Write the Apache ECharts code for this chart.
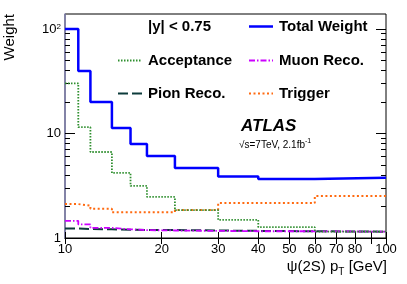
<!DOCTYPE html>
<html><head><meta charset="utf-8">
<script src="https://cdn.jsdelivr.net/npm/echarts@6/dist/echarts.min.js"></script>
<style>html,body{margin:0;padding:0;background:#fff}#c{width:407px;height:284px}</style>
</head><body><div id="c"></div>
<script>
// ---- data ----
const binEdges     = [10, 11, 12, 14, 16, 18, 22, 30, 40, 60, 100];
const totalWeight  = [100, 39.6, 20.0, 11.3, 7.94, 6.09, 4.67, 3.88, 3.67, 3.78];
const acceptance   = [30.2, 11.5, 6.65, 4.19, 3.15, 2.47, 1.85, 1.49, 1.27, 1.15];
const muonReco     = [1.46, 1.35, 1.25, 1.21, 1.19, 1.18, 1.17, 1.16, 1.16, 1.15];
const pionReco     = [1.23, 1.22, 1.21, 1.20, 1.19, 1.19, 1.18, 1.17, 1.16, 1.15];
const trigger      = [2.11, 2.04, 1.90, 1.76, 1.76, 1.76, 1.85, 2.16, 2.16, 2.52];
const seriesNames  = ['Total Weight', 'Acceptance', 'Muon Reco.', 'Pion Reco.', 'Trigger'];
const xTickLabels  = [10, 20, 30, 40, 50, 60, 70, 80, 100];
const xTicks       = [10, 20, 30, 40, 50, 60, 70, 80, 90, 100];
const yMajorTicks  = [1, 10, 100];
const yMinorTicks  = [2, 3, 4, 5, 6, 7, 8, 9, 20, 30, 40, 50, 60, 70, 80, 90];
const xRange = [10, 100];
const yRange = [1, 139];

const FONT = "'Liberation Sans', Arial, Helvetica, sans-serif";
const lg = Math.log10;

function stepData(vals) {
  const d = vals.map((v, i) => [binEdges[i], v]);
  d.push([binEdges[binEdges.length - 1], vals[vals.length - 1]]);
  return d;
}

const styles = {
  'Total Weight': { color: '#0000ff', width: 2.5, type: 'solid' },
  'Acceptance':   { color: '#2f8f2f', width: 1.8, type: [1.5, 1.5] },
  'Muon Reco.':   { color: '#cc00ff', width: 1.8, type: [6, 2, 1.5, 2] },
  'Pion Reco.':   { color: '#0d3b3b', width: 2, type: [10, 4] },
  'Trigger':      { color: '#ff6a10', width: 2, type: [2, 2.5] }
};
const values = {
  'Total Weight': totalWeight, 'Acceptance': acceptance, 'Muon Reco.': muonReco,
  'Pion Reco.': pionReco, 'Trigger': trigger
};

const drawOrder = ['Pion Reco.', 'Muon Reco.', 'Trigger', 'Acceptance', 'Total Weight'];
const series = drawOrder.map(n => ({
  name: n, type: 'line', step: 'end', symbol: 'none', xAxisIndex: 0, yAxisIndex: 0,
  data: stepData(values[n]), lineStyle: styles[n], silent: true, animation: false
}));

function tickAxisX(pos, withLabels) {
  return {
    type: 'value', position: pos, min: lg(xRange[0]), max: lg(xRange[1]),
    axisLine: { show: false }, splitLine: { show: false },
    axisTick: { show: true, inside: true, length: 6, customValues: xTicks.map(lg), lineStyle: { color: '#000', width: 1 } },
    axisLabel: withLabels ? {
      show: true, customValues: xTickLabels.map(lg), margin: 5,
      formatter: v => String(Math.round(Math.pow(10, v))),
      fontFamily: FONT, fontSize: 13, color: '#000'
    } : { show: false }
  };
}
function tickAxisY(pos, ticks, len, withLabels) {
  return {
    type: 'value', position: pos, min: lg(yRange[0]), max: lg(yRange[1]),
    axisLine: { show: false }, splitLine: { show: false },
    axisTick: { show: true, inside: true, length: len, customValues: ticks.map(lg), lineStyle: { color: '#000', width: 1 } },
    axisLabel: withLabels ? {
      show: true, customValues: ticks.map(lg), margin: 4,
      formatter: v => { const e = Math.round(v); return e === 0 ? '{n|1}' : e === 1 ? '{n|10}' : '{n|10}{s|' + e + '}'; },
      rich: {
        n: { fontFamily: FONT, fontSize: 13, lineHeight: 13, verticalAlign: 'bottom', color: '#000' },
        s: { fontFamily: FONT, fontSize: 8, lineHeight: 8, verticalAlign: 'top', color: '#000' }
      }
    } : { show: false }
  };
}

const option = {
  backgroundColor: '#fff',
  animation: false,
  grid: { left: 65, top: 14, width: 321, height: 224, show: true, borderColor: '#000', borderWidth: 1,
          backgroundColor: 'transparent', containLabel: false, outerBoundsMode: 'none' },
  xAxis: [
    { type: 'log', logBase: 10, min: xRange[0], max: xRange[1], position: 'bottom',
      axisLine: { show: true, lineStyle: { color: '#000', width: 1 } },
      axisTick: { show: false }, axisLabel: { show: false }, splitLine: { show: false } },
    tickAxisX('bottom', true),
    tickAxisX('top', false)
  ],
  yAxis: [
    { type: 'log', logBase: 10, min: yRange[0], max: yRange[1], position: 'left',
      axisLine: { show: true, lineStyle: { color: '#8484b4', width: 1.5 } },
      axisTick: { show: false }, axisLabel: { show: false }, splitLine: { show: false } },
    tickAxisY('left', yMajorTicks, 10, true),
    tickAxisY('left', yMinorTicks, 5, false),
    tickAxisY('right', yMajorTicks, 10, false),
    tickAxisY('right', yMinorTicks, 5, false)
  ],
  series: series,
  graphic: { elements: [] }
};

const G = option.graphic.elements;
function legendItem(name, x1, x2, y) {
  const s = styles[name];
  G.push({ type: 'line', silent: true, shape: { x1: x1, y1: y, x2: x2, y2: y },
    style: { stroke: s.color, lineWidth: s.width, lineDash: s.type === 'solid' ? null : s.type } });
  G.push({ type: 'text', silent: true, x: x2 + 6, y: y,
    style: { text: name, font: 'bold 15px ' + FONT, fill: '#000', textVerticalAlign: 'middle', textAlign: 'left' } });
}
G.push({ type: 'text', silent: true, x: 148, y: 26.5,
  style: { text: '|y| < 0.75', font: 'bold 15px ' + FONT, fill: '#000', textVerticalAlign: 'middle' } });
legendItem('Total Weight', 249, 273, 26.5);
legendItem('Acceptance', 118, 142, 60.5);
legendItem('Muon Reco.', 249, 273, 60.5);
legendItem('Pion Reco.', 118, 142, 93.5);
legendItem('Trigger', 249, 273, 93.5);

G.push({ type: 'text', silent: true, x: 241, y: 126,
  style: { text: 'ATLAS', font: 'italic bold 17px ' + FONT, fill: '#000', textVerticalAlign: 'middle' } });
G.push({ type: 'text', silent: true, x: 239, y: 144,
  style: { text: '{n|√s=7TeV, 2.1fb}{s|-1}', fill: '#000', textVerticalAlign: 'middle',
    rich: { n: { fontFamily: FONT, fontSize: 10, lineHeight: 12, verticalAlign: 'bottom' },
            s: { fontFamily: FONT, fontSize: 7, lineHeight: 7, verticalAlign: 'top' } } } });
G.push({ type: 'text', silent: true, x: 9.5, y: 14, rotation: Math.PI / 2,
  style: { text: 'Weight', font: '15px ' + FONT, fill: '#000', textAlign: 'right', textVerticalAlign: 'middle' } });
G.push({ type: 'text', silent: true, x: 387, y: 268,
  style: { text: '{n|ψ(2S) p}{sub|T}{n| [GeV]}', fill: '#000', textAlign: 'right', textVerticalAlign: 'middle',
    rich: { n: { fontFamily: FONT, fontSize: 15, lineHeight: 18, verticalAlign: 'top' },
            sub: { fontFamily: FONT, fontSize: 10, lineHeight: 10, verticalAlign: 'bottom' } } } });

const chart = echarts.init(document.getElementById('c'), null, { renderer: 'canvas' });
chart.setOption(option);
</script>
</body></html>
